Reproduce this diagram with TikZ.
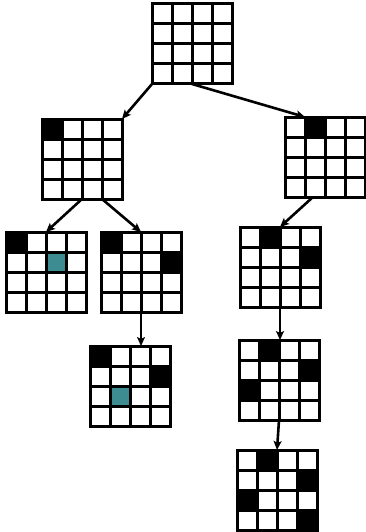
\documentclass[tikz,border=0pt]{standalone}
\usetikzlibrary{calc,arrows.meta}
\definecolor{tealcell}{RGB}{60,140,146}
\tikzset{
  qb/.style={draw=black,line width=3pt,minimum size=80pt,inner sep=0pt,outer sep=0pt,fill=white},
  gl/.style={line width=3pt,line cap=rect},
  conn/.style={line width=2.6pt,-{Stealth[length=9pt,width=8pt,inset=2pt]}},
}
\newcommand{\qboard}[2]{%
  \node[qb] (#1) at (#2) {};
}
\newcommand{\qblack}[2]{%
  \foreach \r/\c in {#2} {\fill[black] ($(#1.north west)+(\c*20,\r*20)$) rectangle ++(20,20);}
}
\newcommand{\qteal}[2]{%
  \foreach \r/\c in {#2} {\fill[tealcell] ($(#1.north west)+(\c*20,\r*20)$) rectangle ++(20,20);}
}
\newcommand{\qgrid}[1]{%
  \foreach \i in {1,2,3} {
    \draw[gl] ($(#1.north west)+(\i*20,0)$) -- ++(0,80);
    \draw[gl] ($(#1.north west)+(0,\i*20)$) -- ++(80,0);
  }
  \draw[line width=3pt] (#1.north west) rectangle (#1.south east);
}
\begin{document}
\begin{tikzpicture}[x=1pt,y=-1pt]
\useasboundingbox (0,0) rectangle (365,532);
\qboard{b1}{192,44}
\qboard{b2}{82,159}
\qboard{b3}{325,157}
\qboard{b4}{46,272}
\qboard{b5}{141,272}
\qboard{b6}{280,267}
\qboard{b7}{130,386}
\qboard{b8}{279,380}
\qboard{b9}{277,490}
\qblack{b2}{0/0}
\qblack{b3}{0/1}
\qblack{b4}{0/0}
\qteal{b4}{1/2}
\qblack{b5}{0/0,1/3}
\qblack{b6}{0/1,1/3}
\qblack{b7}{0/0,1/3}
\qteal{b7}{2/1}
\qblack{b8}{0/1,1/3,2/0}
\qblack{b9}{0/1,1/3,2/0,3/3}
\foreach \b in {b1,b2,b3,b4,b5,b6,b7,b8,b9} {\qgrid{\b}}
\draw[conn] (b1.south west) -- (b2.north east);
\draw[conn] (b1.south) -- ($(b3.north west)!0.25!(b3.north east)$);
\draw[conn] (b2.south) -- (b4.north);
\draw[conn] ($(b2.south west)!0.75!(b2.south east)$) -- (b5.north);
\draw[conn] ($(b3.south)+(-12,0)$) -- (b6.north);
\draw[conn] (b5.south) -- (b5.south |- b7.north);
\draw[conn] (b6.south) -- (b6.south |- b8.north);
\draw[conn] (b8.south) -- (b9.north);
\end{tikzpicture}
\end{document}
